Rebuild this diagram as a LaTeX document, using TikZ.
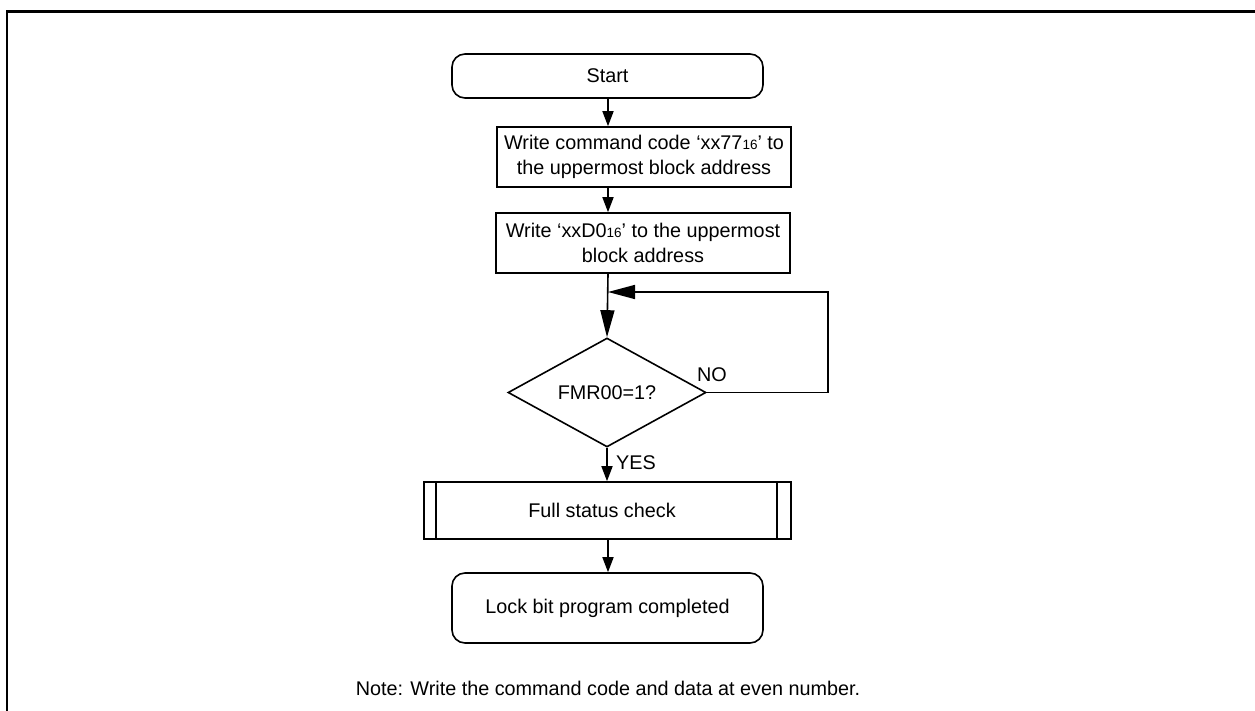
\documentclass[tikz,border=0pt]{standalone}
\usepackage{fontspec}
\setmainfont{Liberation Sans}
\usetikzlibrary{arrows.meta,shapes.geometric}
\newcommand{\sixteen}{{\fontsize{13.5}{13.5}\selectfont 16}}
\begin{document}
\begin{tikzpicture}[x=1pt,y=-1pt,
  font=\fontsize{19.8}{24.5}\selectfont,
  line width=1.6pt,
  term/.style={draw,rounded corners=13pt,minimum width=311pt,inner sep=0pt,align=center},
  proc/.style={draw,minimum width=294pt,minimum height=60pt,inner sep=0pt,align=center},
  dec/.style={draw,diamond,minimum width=198pt,minimum height=109pt,aspect=1.8,inner sep=0pt},
  sub/.style={draw,minimum width=367pt,minimum height=57pt,inner sep=0pt},
  sarrow/.style={-{Triangle[length=15pt,width=11pt]}},
  barrow/.style={-{Triangle[length=27pt,width=14pt]}},
  lbl/.style={inner sep=0pt}
]
\useasboundingbox (0,0) rectangle (1255,711);
\draw[line width=2.6pt] (7,1000) -- (7,11.5) -- (1300,11.5);

\node[term,minimum height=44pt] (start) at (607.5,76) {Start};
\node[proc] (b1) at (644,157) {Write command code ‘xx77\sixteen’ to\\the uppermost block address};
\node[proc] (b2) at (643,243) {Write ‘xxD0\sixteen’ to the uppermost\\block address};
\node[dec] (d) at (607,392.5) {FMR00=1?};
\node[sub] (s) at (607.5,510.5) {};
\draw ([xshift=13pt]s.north west) -- ([xshift=13pt]s.south west);
\draw ([xshift=-15pt]s.north east) -- ([xshift=-15pt]s.south east);
\node[lbl] (stxt) at (602,510) {Full status check};
\node[term,minimum height=70pt] (end) at (607.5,608) {Lock bit program completed};
\node[lbl] (note) at (608,688) {Note: Write the command code and data at even number.};
\node[lbl] (no) at (712,375) {NO};
\node[lbl] (yes) at (636,463) {YES};

\coordinate (join) at (608,292);
\coordinate (corner) at (828,392.5);

\draw[sarrow] (start.south -| 608,0) -- (b1.north -| 608,0);
\draw[sarrow] (b1.south -| 608,0) -- (b2.north -| 608,0);
\draw[barrow] (b2.south -| 608,0) -- (d.north);
\draw[barrow] (d.east) -- (corner) |- (join);
\draw[sarrow] (d.south) -- (s.north -| d.south);
\draw[sarrow] (s.south -| 608,0) -- (end.north -| 608,0);
\end{tikzpicture}
\end{document}
